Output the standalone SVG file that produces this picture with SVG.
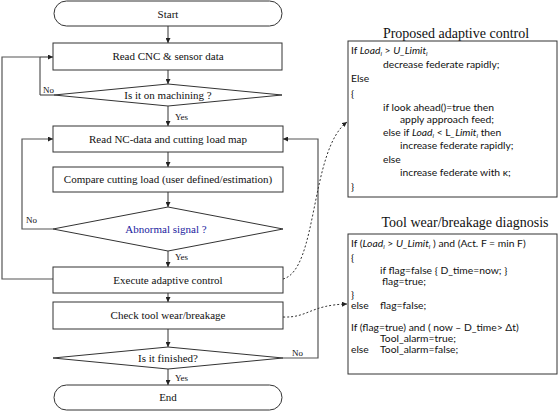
<svg xmlns="http://www.w3.org/2000/svg" width="560" height="411" viewBox="0 0 560 411">
<defs>
<marker id="ah" viewBox="0 0 10 10" refX="10" refY="5" markerWidth="5" markerHeight="5" orient="auto" markerUnits="userSpaceOnUse"><path d="M0,0 L10,5 L0,10 z" fill="#222"/></marker>
<style>
.box{fill:#fff;stroke:#333;stroke-width:1}
.ln{fill:none;stroke:#333;stroke-width:1}
.lp{fill:none;stroke:#555;stroke-width:1.2}
.ds{fill:none;stroke:#333;stroke-width:1;stroke-dasharray:2,2}
.t{font-family:"Liberation Serif",serif;font-size:11px;fill:#111;text-anchor:middle}
.s{font-family:"Liberation Serif",serif;font-size:9px;fill:#111}
.h{font-family:"Liberation Serif",serif;font-size:14px;fill:#111;text-anchor:middle}
.c{font-family:Lato,"Open Sans",sans-serif;font-size:10.3px;fill:#111}
.i{font-style:italic}
</style>
</defs>
<rect width="560" height="411" fill="#fff"/>
<g id="connectors">
<path class="ln" d="M168,26 V43" marker-end="url(#ah)"/>
<path class="ln" d="M168,70 V84" marker-end="url(#ah)"/>
<path class="ln" d="M168,106 V126" marker-end="url(#ah)"/>
<path class="ln" d="M168,152 V167" marker-end="url(#ah)"/>
<path class="ln" d="M168,192 V207" marker-end="url(#ah)"/>
<path class="ln" d="M168,251 V267" marker-end="url(#ah)"/>
<path class="ln" d="M168,293 V302" marker-end="url(#ah)"/>
<path class="ln" d="M168,329 V347" marker-end="url(#ah)"/>
<path class="ln" d="M168,369 V385" marker-end="url(#ah)"/>
<path class="ln" d="M54,95 H40 V57 H53" marker-end="url(#ah)"/>
<path class="lp" d="M53,279 H2 V57 H40"/>
<path class="lp" d="M53,229 H22 V139 H53" marker-end="url(#ah)"/>
<path class="lp" d="M283,358 H318 V139 H283" marker-end="url(#ah)"/>
<path class="ds" d="M283,279 C318,270 310,150 347,122" marker-end="url(#ah)"/>
<path class="ds" d="M283,317 C308,318 310,305 347,304" marker-end="url(#ah)"/>
<text class="s" x="43" y="93">No</text>
<text class="s" x="175" y="120">Yes</text>
<text class="s" x="26" y="223">No</text>
<text class="s" x="175" y="260">Yes</text>
<text class="s" x="292" y="356">No</text>
<text class="s" x="175" y="381">Yes</text>
</g>
<g id="start"><rect class="box" x="54" y="1" width="228" height="25" rx="12.5"/><text class="t" x="168" y="17.5">Start</text></g>
<g id="read-cnc"><rect class="box" x="53" y="43" width="229" height="27"/><text class="t" x="168" y="60">Read CNC &amp; sensor data</text></g>
<g id="on-machining"><polygon class="box" points="168,84 282,95 168,106 54,95"/><text class="t" x="168" y="99">Is it  on machining  ?</text></g>
<g id="read-nc"><rect class="box" x="53" y="126" width="230" height="26"/><text class="t" x="168" y="143">Read NC-data and cutting load map</text></g>
<g id="compare"><rect class="box" x="53" y="167" width="230" height="25"/><text class="t" x="168" y="183">Compare cutting  load (user defined/estimation)</text></g>
<g id="abnormal"><polygon class="box" points="168,207 283,229 168,251 53,229"/><text class="t" x="166" y="233" style="fill:#1a1aa0">Abnormal signal  ?</text></g>
<g id="execute"><rect class="box" x="53" y="267" width="230" height="26"/><text class="t" x="168" y="284">Execute adaptive control</text></g>
<g id="check"><rect class="box" x="53" y="302" width="230" height="27"/><text class="t" x="168" y="319">Check tool wear/breakage</text></g>
<g id="finished"><polygon class="box" points="168,347 283,358 168,369 53,358"/><text class="t" x="168" y="362">Is it  finished?</text></g>
<g id="end"><rect class="box" x="54" y="385" width="228" height="25" rx="12.5"/><text class="t" x="168" y="401">End</text></g>
<g id="adaptive-control">
<text class="h" x="456" y="38">Proposed adaptive control</text>
<rect class="box" x="348" y="41" width="209" height="156"/>
<text class="c" x="351" y="54">If <tspan class="i">Load</tspan><tspan class="i" font-size="6.5" dy="2">i</tspan><tspan dy="-2"> &gt; </tspan><tspan class="i">U_Limit</tspan><tspan class="i" font-size="6.5" dy="2">i</tspan></text>
<text class="c" x="383" y="68">decrease federate rapidly;</text>
<text class="c" x="351" y="82">Else</text>
<text class="c" x="351" y="97">{</text>
<text class="c" x="383" y="111">if look ahead()=true then</text>
<text class="c" x="400" y="123">apply approach feed;</text>
<text class="c" x="383" y="136">else if <tspan class="i">Load</tspan><tspan class="i" font-size="6.5" dy="2">i</tspan><tspan dy="-2"> &lt; L</tspan><tspan class="i">_Limit</tspan><tspan class="i" font-size="6.5" dy="2">i</tspan><tspan dy="-2"> then</tspan></text>
<text class="c" x="400" y="149">increase federate rapidly;</text>
<text class="c" x="383" y="163">else</text>
<text class="c" x="400" y="176">increase federate with κ;</text>
<text class="c" x="351" y="190">}</text>
</g>
<g id="tool-diagnosis">
<text class="h" x="465" y="227">Tool  wear/breakage diagnosis</text>
<rect class="box" x="348" y="234" width="209" height="140"/>
<text class="c" x="351" y="247">If (<tspan class="i">Load</tspan><tspan class="i" font-size="6.5" dy="2">i</tspan><tspan dy="-2"> &gt; </tspan><tspan class="i">U_Limit</tspan><tspan class="i" font-size="6.5" dy="2">i</tspan><tspan dy="-2"> ) and (Act. F = min F)</tspan></text>
<text class="c" x="351" y="261">{</text>
<text class="c" x="380" y="274">if flag=false   { D_time=now; }</text>
<text class="c" x="382" y="285">flag=true;</text>
<text class="c" x="351" y="298">}</text>
<text class="c" x="351" y="309">else</text>
<text class="c" x="380" y="309">flag=false;</text>
<text class="c" x="351" y="331">If (flag=true) and ( now – D_time&gt; Δt)</text>
<text class="c" x="380" y="342">Tool_alarm=true;</text>
<text class="c" x="351" y="353">else</text>
<text class="c" x="380" y="353">Tool_alarm=false;</text>
</g>
</svg>
